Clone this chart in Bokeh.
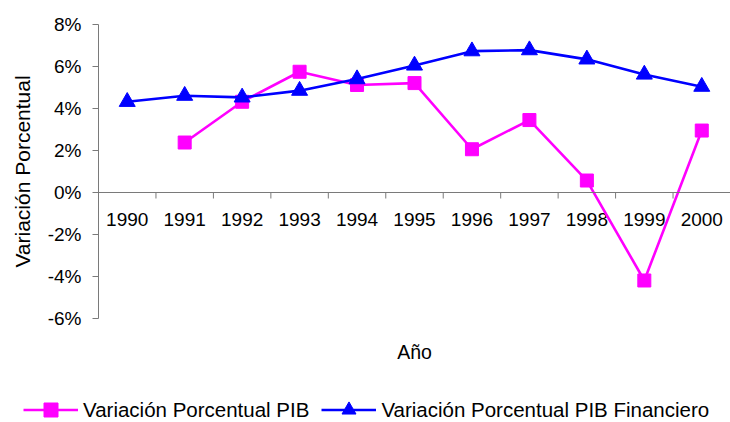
import numpy as np
from bokeh.plotting import figure
from bokeh.layouts import column
from bokeh.models import (Range1d, FixedTicker, PrintfTickFormatter, Span,
                          Legend, LegendItem, ColumnDataSource)
from bokeh.core.properties import value
from bokeh.embed import file_html
from bokeh.resources import INLINE

# ---- data ----
years = ["1990", "1991", "1992", "1993", "1994", "1995",
         "1996", "1997", "1998", "1999", "2000"]
pib = [np.nan, 2.38, 4.32, 5.75, 5.12, 5.21, 2.06, 3.45, 0.57, -4.19, 2.95]
pib_fin = [4.32, 4.61, 4.53, 4.85, 5.40, 6.05, 6.73, 6.78, 6.34, 5.62, 5.04]
y_ticks = [-6, -4, -2, 0, 2, 4, 6, 8]
label_pib = "Variación Porcentual PIB"
label_fin = "Variación Porcentual PIB Financiero"
x_title = "Año"
y_title = "Variación Porcentual"

FONT = "Liberation Sans"
FS = "19px"
AXIS_COLOR = "#7a7a7a"
C_PIB = "#FF00FF"
C_FIN = "#0000FF"

n = len(years)
xs = np.arange(n) + 0.5
bounds = np.arange(n)

p = figure(width=730, height=386, output_backend="svg", toolbar_location=None,
           x_range=Range1d(0, n), y_range=Range1d(min(y_ticks), max(y_ticks)),
           min_border_left=98, min_border_right=0, min_border_top=24,
           min_border_bottom=68)
p.frame_align = False
p.outline_line_color = None
p.grid.visible = False
p.background_fill_color = "white"
p.border_fill_color = "white"

# y axis
ya = p.yaxis[0]
ya.ticker = FixedTicker(ticks=y_ticks)
ya.formatter = PrintfTickFormatter(format="%d%%")
ya.axis_line_color = AXIS_COLOR
ya.major_tick_line_color = AXIS_COLOR
ya.minor_tick_line_color = None
ya.major_tick_in = 0
ya.major_tick_out = 6
ya.major_label_standoff = 11
ya.major_label_text_font = FONT
ya.major_label_text_font_size = FS
ya.major_label_text_color = "black"
ya.axis_label = y_title
ya.axis_label_text_font = FONT
ya.axis_label_text_font_size = "21px"
ya.axis_label_text_font_style = "normal"
ya.axis_label_text_color = "black"
ya.axis_label_standoff = 11

# bottom axis used only for its title
xa = p.xaxis[0]
xa.ticker = FixedTicker(ticks=[])
xa.axis_line_color = None
xa.major_tick_line_color = None
xa.minor_tick_line_color = None
xa.major_label_text_font_size = "0px"
xa.axis_label = x_title
xa.axis_label_text_font = FONT
xa.axis_label_text_font_size = "19.5px"
xa.axis_label_text_font_style = "normal"
xa.axis_label_text_color = "black"
xa.axis_label_standoff = 22

# category axis drawn at y = 0
p.add_layout(Span(location=0, dimension="width", line_color=AXIS_COLOR, line_width=1))
p.ray(x=bounds, y=0, length=6, angle=-np.pi / 2, length_units="screen",
      line_color=AXIS_COLOR, line_width=1)
p.text(x=xs, y=0, text=years, y_offset=20, text_align="center",
       text_baseline="top", text_font=value(FONT), text_font_size=FS,
       text_color="black")

# series
p.line(xs, pib, line_color=C_PIB, line_width=2.6)
p.scatter(xs, pib, marker="square", size=13, fill_color=C_PIB, line_color=C_PIB)
p.line(xs, pib_fin, line_color=C_FIN, line_width=2.6)
p.scatter(xs, pib_fin, marker="triangle", size=16, fill_color=C_FIN, line_color=C_FIN)

# legend strip below the chart (its renderers hold no drawable point)
pl = figure(width=730, height=36, output_backend="svg", toolbar_location=None,
            x_range=Range1d(0, 1), y_range=Range1d(0, 1),
            x_axis_location=None, y_axis_location=None,
            min_border=0)
pl.frame_align = False
pl.outline_line_color = None
pl.grid.visible = False
blank = ColumnDataSource(data=dict(x=[np.nan], y=[np.nan]))
ll1 = pl.line("x", "y", source=blank, line_color=C_PIB, line_width=2.6)
ls1 = pl.scatter("x", "y", source=blank, marker="square", size=13,
                 fill_color=C_PIB, line_color=C_PIB)
ll2 = pl.line("x", "y", source=blank, line_color=C_FIN, line_width=2.6)
ls2 = pl.scatter("x", "y", source=blank, marker="triangle", size=16,
                 fill_color=C_FIN, line_color=C_FIN)
legend = Legend(items=[LegendItem(label=label_pib, renderers=[ll1, ls1]),
                       LegendItem(label=label_fin, renderers=[ll2, ls2])],
                location=(23, -5), orientation="horizontal",
                glyph_width=55, glyph_height=35, label_height=35,
                label_standoff=5, spacing=12,
                padding=0, margin=0, border_line_color=None,
                background_fill_alpha=0,
                label_text_font=FONT, label_text_font_size="20.5px",
                label_text_color="black")
pl.add_layout(legend, "center")

layout = column(p, pl, spacing=0)
open("out.html", "w").write(file_html(layout, INLINE))
